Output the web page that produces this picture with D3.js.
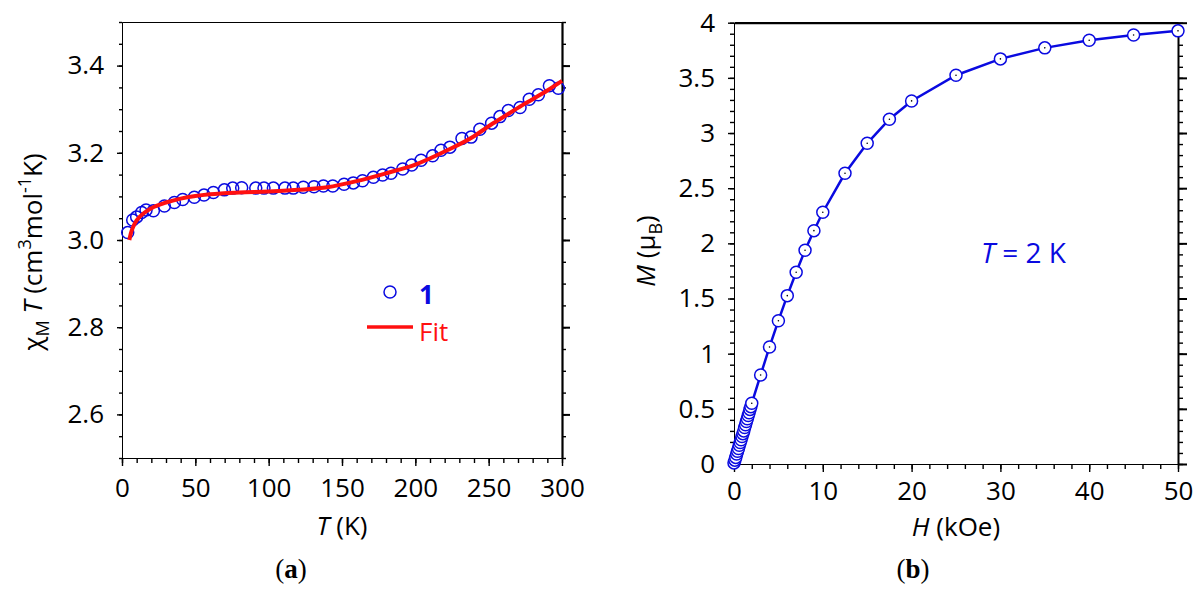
<!DOCTYPE html>
<html>
<head>
<meta charset="utf-8">
<script src="https://cdn.jsdelivr.net/npm/d3@7"></script>
<style>
  body { margin: 0; background: #fff; }
  svg text { font-family: "Open Sans", sans-serif; }
</style>
</head>
<body>
<svg id="chart" width="1200" height="596"></svg>
<script>
// (a) chiM*T vs T
var tempK = [3.9, 7.3, 10, 13.4, 16.4, 21.4, 28.9, 35.7, 41.4, 49.3, 55.9, 62.3, 69.8, 75.5, 81.6,
  91.2, 96.8, 103.2, 111.1, 116.8, 123.6, 130.9, 137.3, 143.7, 151.4, 157.7, 164, 171.4, 177.7,
  183.4, 191.4, 197.5, 203.9, 211.8, 217.5, 223.6, 231.8, 238, 244, 252, 257.7, 263.4, 271.4,
  277.7, 283.9, 291.4, 297.5];
var chiT = [3.017, 3.046, 3.053, 3.063, 3.069, 3.067, 3.078, 3.086, 3.093, 3.098, 3.103, 3.109,
  3.115, 3.119, 3.120, 3.119, 3.119, 3.119, 3.119, 3.119, 3.121, 3.122, 3.124, 3.124, 3.128,
  3.131, 3.136, 3.144, 3.149, 3.153, 3.163, 3.172, 3.183, 3.193, 3.206, 3.213, 3.233, 3.236,
  3.254, 3.268, 3.283, 3.297, 3.304, 3.323, 3.333, 3.354, 3.348];
var fitT = [5, 6, 8, 10, 15, 20, 30, 40, 50, 60, 80, 100, 120, 140, 160, 180, 200, 220, 240, 250, 260, 270, 280, 290, 300];
var fitChiT = [3.000, 3.015, 3.033, 3.045, 3.062, 3.073, 3.086, 3.095, 3.101, 3.105, 3.109, 3.111,
  3.115, 3.121, 3.135, 3.153, 3.173, 3.203, 3.238, 3.261, 3.282, 3.303, 3.323, 3.343, 3.365];
var tTicks = [0, 50, 100, 150, 200, 250, 300];
var chiTicks = [2.6, 2.8, 3.0, 3.2, 3.4];

// (b) M vs H at 2 K
var fieldH = [0, 0.1, 0.2, 0.3, 0.4, 0.5, 0.6, 0.7, 0.8, 0.9, 1.0, 1.1, 1.2, 1.3, 1.4, 1.5, 1.6,
  1.7, 1.8, 1.9, 2, 3, 4, 5, 6, 7, 8, 9, 10, 12.5, 15, 17.5, 20, 25, 30, 35, 40, 45, 50];
var magM = [0.01, 0.035, 0.06, 0.09, 0.115, 0.14, 0.17, 0.195, 0.22, 0.25, 0.275, 0.30, 0.33,
  0.355, 0.385, 0.41, 0.44, 0.465, 0.495, 0.52, 0.55, 0.807, 1.061, 1.299, 1.526, 1.738, 1.937,
  2.115, 2.282, 2.635, 2.907, 3.125, 3.291, 3.524, 3.672, 3.772, 3.841, 3.889, 3.926];
var hTicks = [0, 10, 20, 30, 40, 50];
var mTicks = [0, 0.5, 1, 1.5, 2, 2.5, 3, 3.5, 4];

var blue = "#0a0ae0", red = "#ff1010";
var svg = d3.select("#chart");
svg.append("rect").attr("width", 1200).attr("height", 596).attr("fill", "#fff");

function styleAxis(g, fs) {
  g.selectAll("text").attr("font-size", fs).attr("fill", "#000")
    .style("font-family", "'Open Sans', sans-serif");
  g.selectAll("line").attr("stroke", "#000").attr("stroke-width", 1.4);
  g.select(".domain").attr("stroke", "#000");
}

// ---------- panel (a) ----------
var xa = d3.scaleLinear().domain([0, 300]).range([122, 562]);
var ya = d3.scaleLinear().domain([2.5, 3.5]).range([458, 22]);
var aMinorX = d3.range(0, 301, 10), aMinorY = d3.range(2.5, 3.501, 0.05);

svg.append("g").attr("transform", "translate(0,458)")
  .call(d3.axisBottom(xa).tickValues(aMinorX).tickSize(5).tickFormat("").tickSizeOuter(0))
  .call(styleAxis, 26);
svg.append("g").attr("transform", "translate(0,458)")
  .call(d3.axisBottom(xa).tickValues(tTicks).tickSize(8).tickPadding(13).tickSizeOuter(0))
  .call(styleAxis, 26);
svg.append("g").attr("transform", "translate(122,0)")
  .call(d3.axisLeft(ya).tickValues(aMinorY).tickSize(3).tickFormat("").tickSizeOuter(0))
  .call(styleAxis, 26);
svg.append("g").attr("transform", "translate(122,0)")
  .call(d3.axisLeft(ya).tickValues(chiTicks).tickSize(5).tickPadding(13).tickFormat(d3.format(".1f")).tickSizeOuter(0))
  .call(styleAxis, 26);
svg.append("g").attr("transform", "translate(0,22)")
  .call(d3.axisTop(xa).tickValues([]).tickSizeOuter(0))
  .call(styleAxis, 26);
svg.append("g").attr("transform", "translate(562,0)")
  .call(d3.axisRight(ya).tickValues(aMinorY).tickSize(4).tickFormat("").tickSizeOuter(0))
  .call(styleAxis, 26);
var ra = svg.append("g").attr("transform", "translate(562,0)")
  .call(d3.axisRight(ya).tickValues(chiTicks).tickSize(8).tickFormat("").tickSizeOuter(0))
  .call(styleAxis, 26);
ra.select(".domain").attr("stroke-width", 2.2);
ra.selectAll("line").attr("stroke-width", 2);

svg.append("g").selectAll("circle")
  .data(tempK).enter().append("circle")
  .attr("cx", function (d) { return xa(d); })
  .attr("cy", function (d, i) { return ya(chiT[i]); })
  .attr("r", 6)
  .attr("fill", "none").attr("stroke", blue).attr("stroke-width", 1.5);

var fitLine = d3.line()
  .x(function (d) { return xa(d); })
  .y(function (d, i) { return ya(fitChiT[i]); })
  .curve(d3.curveMonotoneX);
svg.append("path").datum(fitT).attr("d", fitLine)
  .attr("fill", "none").attr("stroke", red).attr("stroke-width", 4);

// legend
svg.append("circle").attr("cx", 390).attr("cy", 292).attr("r", 6)
  .attr("fill", "none").attr("stroke", blue).attr("stroke-width", 1.5);
svg.append("text").attr("x", 419).attr("y", 304).attr("font-size", 26)
  .attr("font-weight", "bold").attr("fill", blue).text("1");
svg.append("line").attr("x1", 367).attr("x2", 413).attr("y1", 327).attr("y2", 327)
  .attr("stroke", red).attr("stroke-width", 3.5);
svg.append("text").attr("x", 419).attr("y", 341).attr("font-size", 26)
  .attr("fill", red).text("Fit");

// axis titles
var xt = svg.append("text").attr("x", 342).attr("y", 535).attr("text-anchor", "middle").attr("font-size", 26);
xt.append("tspan").attr("font-style", "italic").text("T");
xt.append("tspan").text(" (K)");

var yt = svg.append("text").attr("transform", "translate(42,252) rotate(-90)")
  .attr("text-anchor", "middle").attr("font-size", 26);
yt.append("tspan").text("χ");
yt.append("tspan").attr("font-size", 18).attr("dy", 7).text("M");
yt.append("tspan").attr("font-style", "italic").attr("dy", -7).text(" T");
yt.append("tspan").text(" (cm");
yt.append("tspan").attr("font-size", 18).attr("dy", -11).text("3");
yt.append("tspan").attr("dy", 11).text("mol");
yt.append("tspan").attr("font-size", 18).attr("dy", -11).text("-1");
yt.append("tspan").attr("dy", 11).text("K)");

// ---------- panel (b) ----------
var xb = d3.scaleLinear().domain([0, 50]).range([734, 1178]);
var yb = d3.scaleLinear().domain([0, 4]).range([464, 22.7]);
var bMinorX = d3.range(0, 50.01, 2), bMinorY = d3.range(0, 4.001, 0.1);

svg.append("g").attr("transform", "translate(0,464)")
  .call(d3.axisBottom(xb).tickValues(bMinorX).tickSize(5).tickFormat("").tickSizeOuter(0))
  .call(styleAxis, 26);
svg.append("g").attr("transform", "translate(0,464)")
  .call(d3.axisBottom(xb).tickValues(hTicks).tickSize(8).tickPadding(10).tickSizeOuter(0))
  .call(styleAxis, 26);
svg.append("g").attr("transform", "translate(734,0)")
  .call(d3.axisLeft(yb).tickValues(bMinorY).tickSize(4).tickFormat("").tickSizeOuter(0))
  .call(styleAxis, 26);
svg.append("g").attr("transform", "translate(734,0)")
  .call(d3.axisLeft(yb).tickValues(mTicks).tickSize(6).tickPadding(13).tickFormat(d3.format("~g")).tickSizeOuter(0))
  .call(styleAxis, 26);
var tb = svg.append("g").attr("transform", "translate(0,22.7)")
  .call(d3.axisTop(xb).tickValues([]).tickSizeOuter(0))
  .call(styleAxis, 26);
tb.select(".domain").attr("stroke-width", 2.2);
svg.append("g").attr("transform", "translate(1178,0)")
  .call(d3.axisRight(yb).tickValues(bMinorY).tickSize(5).tickFormat("").tickSizeOuter(0))
  .call(styleAxis, 26);
var rb = svg.append("g").attr("transform", "translate(1178,0)")
  .call(d3.axisRight(yb).tickValues(mTicks).tickSize(9).tickFormat("").tickSizeOuter(0))
  .call(styleAxis, 26);
rb.select(".domain").attr("stroke-width", 2);
rb.selectAll("line").attr("stroke-width", 2);

var mLine = d3.line()
  .x(function (d) { return xb(d); })
  .y(function (d, i) { return yb(magM[i]); });
svg.append("path").datum(fieldH).attr("d", mLine)
  .attr("fill", "none").attr("stroke", blue).attr("stroke-width", 2.5);

var pts = svg.append("g").selectAll("g")
  .data(fieldH).enter().append("g")
  .attr("transform", function (d, i) { return "translate(" + xb(d) + "," + yb(magM[i]) + ")"; });
pts.append("circle").attr("r", 6)
  .attr("fill", "#fff").attr("stroke", blue).attr("stroke-width", 1.5);
pts.append("circle").attr("r", 0.8).attr("fill", "#000");

svg.append("text").attr("x", 981).attr("y", 263).attr("font-size", 28).attr("fill", blue)
  .html('<tspan font-style="italic">T</tspan> = 2 K');

var hx = svg.append("text").attr("x", 956).attr("y", 536).attr("text-anchor", "middle").attr("font-size", 26);
hx.append("tspan").attr("font-style", "italic").text("H");
hx.append("tspan").text(" (kOe)");

var my = svg.append("text").attr("transform", "translate(655,251) rotate(-90)")
  .attr("text-anchor", "middle").attr("font-size", 26);
my.append("tspan").attr("font-style", "italic").text("M");
my.append("tspan").text(" (μ");
my.append("tspan").attr("font-size", 18).attr("dy", 7).text("B");
my.append("tspan").attr("dy", -7).text(")");

// captions
svg.append("text").attr("x", 291).attr("y", 578).attr("text-anchor", "middle")
  .attr("font-size", 27).style("font-family", "'Liberation Serif', serif")
  .html('(<tspan font-weight="bold">a</tspan>)');
svg.append("text").attr("x", 913).attr("y", 578).attr("text-anchor", "middle")
  .attr("font-size", 27).style("font-family", "'Liberation Serif', serif")
  .html('(<tspan font-weight="bold">b</tspan>)');
</script>
</body>
</html>
